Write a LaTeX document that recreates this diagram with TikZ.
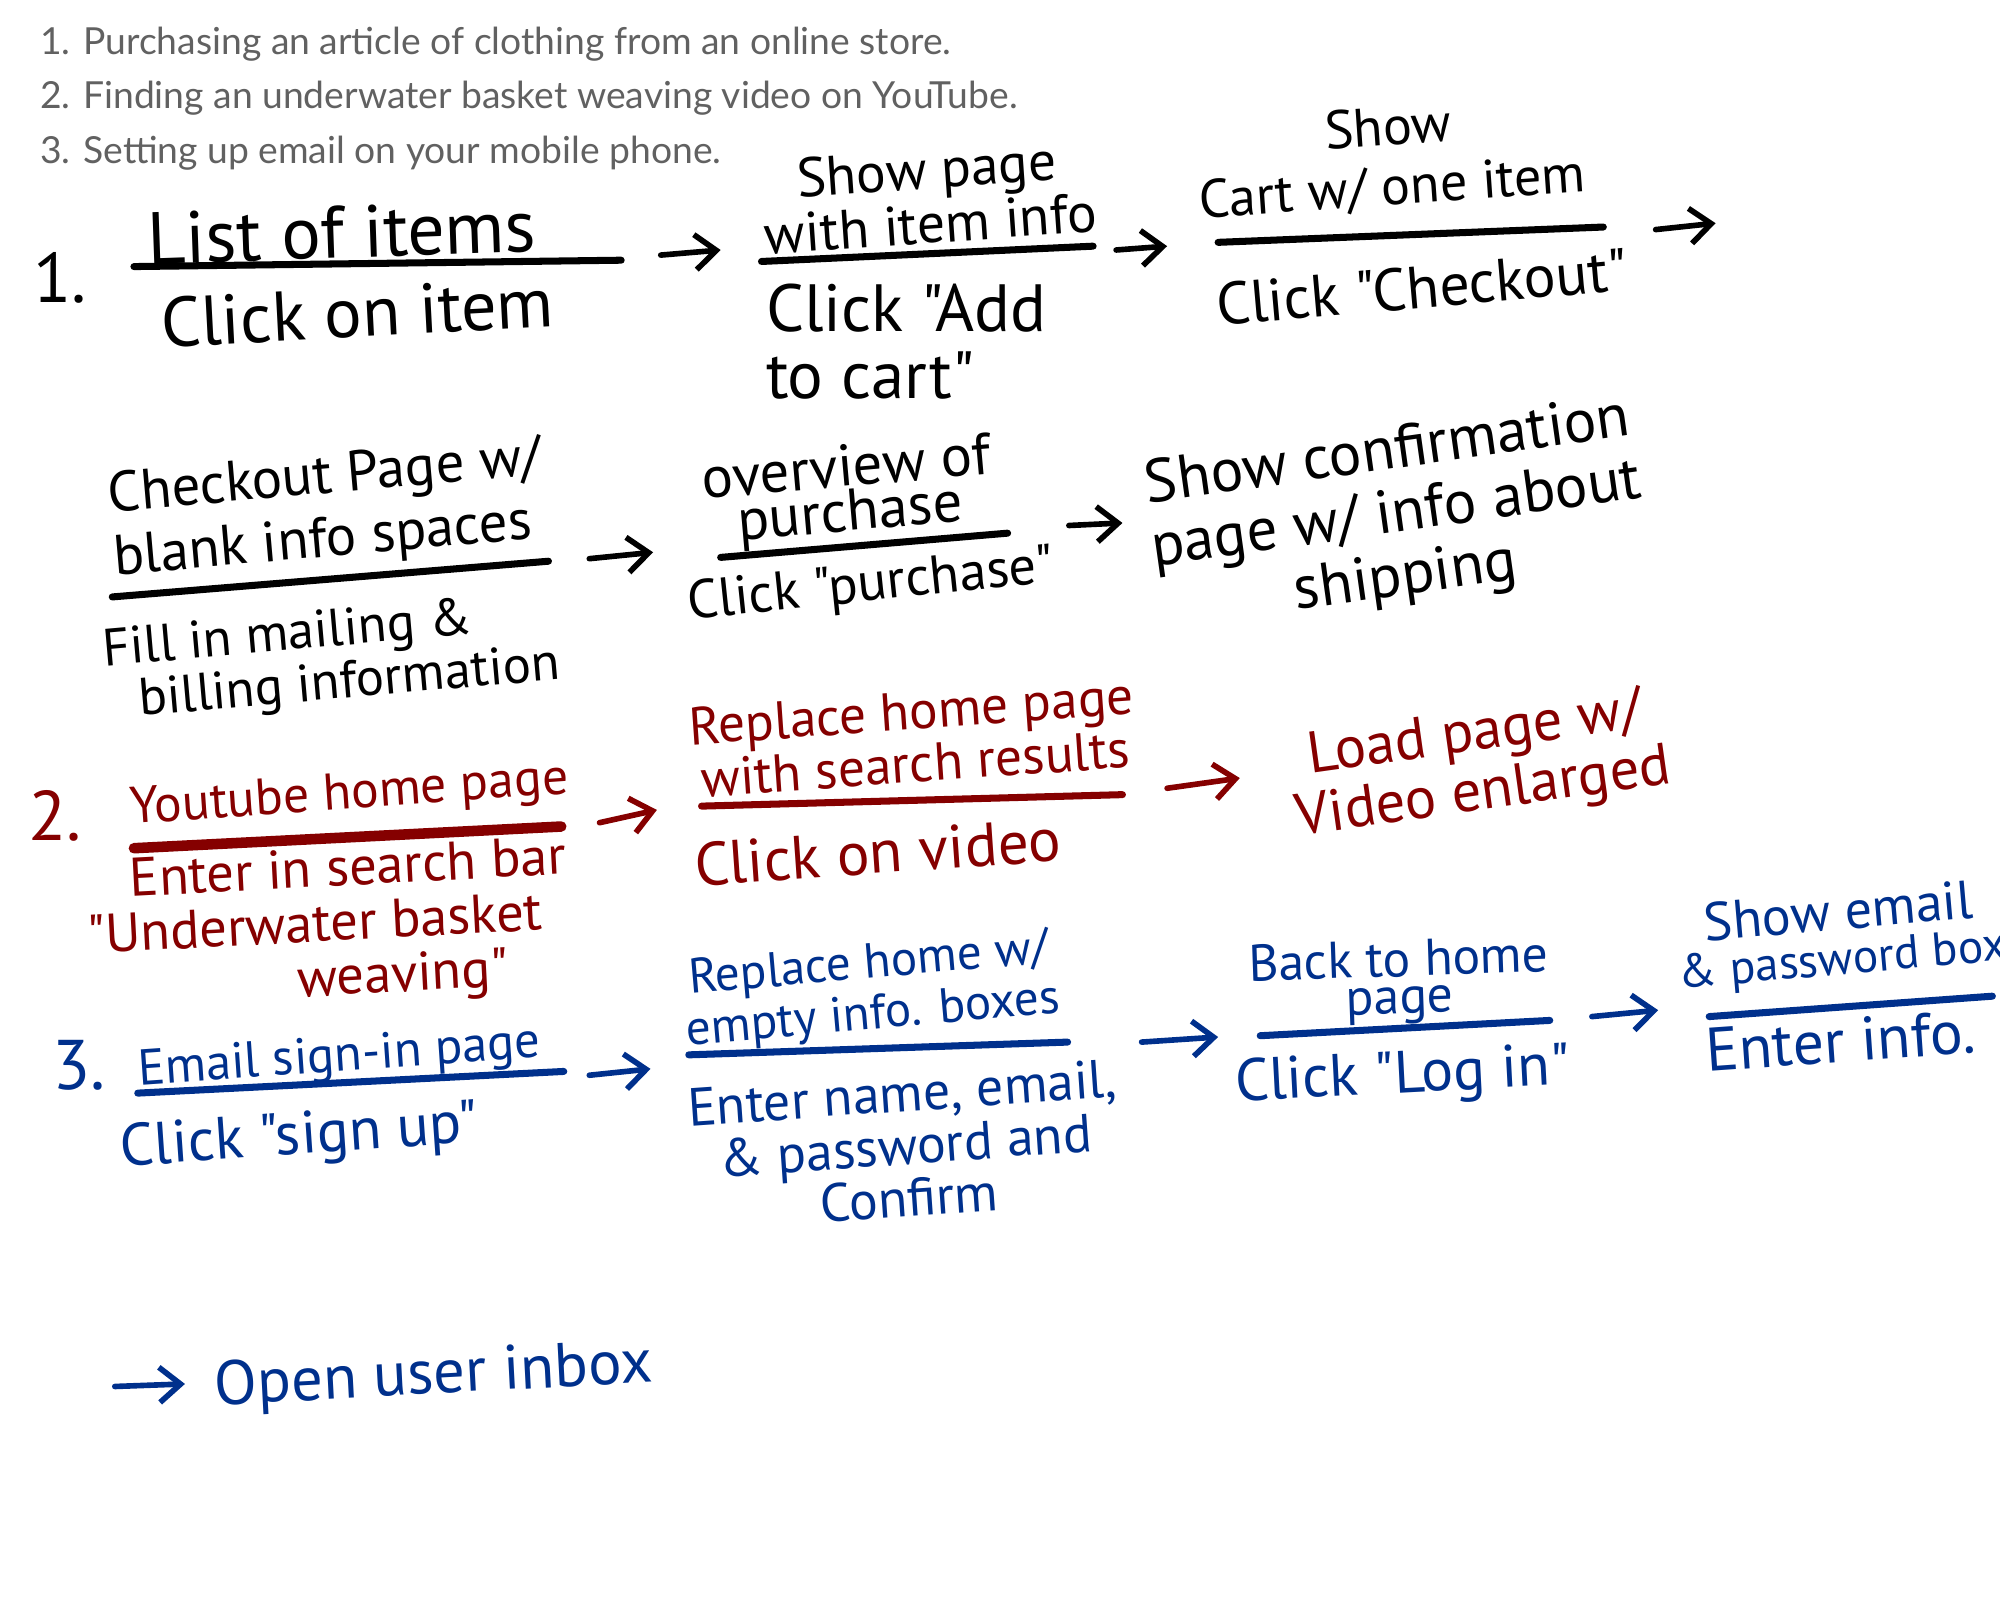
\documentclass[tikz,border=0pt]{standalone}
\usepackage{fontspec}
\setmainfont{Lato}
\newfontfamily\handfont{PT Sans}
\usetikzlibrary{arrows.meta}
\definecolor{inkred}{rgb}{0.52,0.0,0.0}
\definecolor{inkblue}{rgb}{0.0,0.19,0.55}
\definecolor{notegray}{rgb}{0.38,0.38,0.38}

\begin{document}
\begin{tikzpicture}[x=0.012755cm, y=-0.012755cm,
    hand/.style 2 args={font=\handfont\fontsize{#1}{#2}\selectfont, inner sep=0pt, align=center},
    header/.style={font=\fontsize{10.6}{12}\selectfont, text=notegray, anchor=west, inner sep=0pt},
    divider/.style={line width=2pt, line cap=round},
    flow/.style={-{Straight Barb[length=6pt,width=10pt]}, line width=1.6pt, line cap=round},
    bignum/.style={font=\handfont\fontsize{20}{20}\selectfont, inner sep=0pt}]
    \useasboundingbox (0,0) rectangle (1568,1254);

    \node[header] (h1) at (31,35) {1. Purchasing an article of clothing from an online store.};
    \node[header] (h2) at (31,77) {2. Finding an underwater basket weaving video on YouTube.};
    \node[header] (h3) at (31,120) {3. Setting up email on your mobile phone.};

    % 1
    \node[bignum] (num1) at (47,218) {1.};
    \node[hand={21}{20}, rotate=2] (t11) at (268,182) {List of items};
    \coordinate (d11a) at (105,209); \coordinate (d11b) at (487,204);
    \draw[divider] (d11a) -- (d11b);
    \node[hand={20}{20}, rotate=3] (c11) at (280,245) {Click on item};
    \coordinate (a11a) at (518,200); \coordinate (a11b) at (565,196);
    \draw[flow] (a11a) -- (a11b);

    \node[hand={15.8}{12.7}, rotate=4] (t12) at (728,154) {Show page\\with item info};
    \coordinate (d12a) at (597,205); \coordinate (d12b) at (857,193);
    \draw[divider] (d12a) -- (d12b);
    \node[hand={19}{19}, align=left, anchor=west] (c12) at (600,268) {Click "Add\\to cart"};
    \coordinate (a12a) at (875,196); \coordinate (a12b) at (915,193);
    \draw[flow] (a12a) -- (a12b);

    \node[hand={15.4}{17}, rotate=4] (t13) at (1090,125) {Show\\Cart w/ one item};
    \coordinate (d13a) at (955,190); \coordinate (d13b) at (1257,178);
    \draw[divider] (d13a) -- (d13b);
    \node[hand={17}{17}, rotate=5] (c13) at (1115,225) {Click "Checkout"};
    \coordinate (a13a) at (1298,180); \coordinate (a13b) at (1345,175);
    \draw[flow] (a13a) -- (a13b);

    \node[hand={16.2}{18}, align=left, rotate=5] (t14) at (257,400) {Checkout Page w/\\blank info spaces};
    \coordinate (d14a) at (88,468); \coordinate (d14b) at (430,440);
    \draw[divider] (d14a) -- (d14b);
    \node[hand={15}{15}, align=left, rotate=5] (c14) at (260,517) {Fill in mailing \&\\\hspace*{9pt}billing information};
    \coordinate (a14a) at (462,438); \coordinate (a14b) at (512,433);
    \draw[flow] (a14a) -- (a14b);

    \node[hand={16.7}{12.7}, rotate=5] (t15) at (665,387) {overview of\\purchase};
    \coordinate (d15a) at (565,437); \coordinate (d15b) at (790,418);
    \draw[divider] (d15a) -- (d15b);
    \node[hand={15.5}{15}, rotate=6] (c15) at (683,460) {Click "purchase"};
    \coordinate (a15a) at (838,412); \coordinate (a15b) at (880,410);
    \draw[flow] (a15a) -- (a15b);

    \node[hand={17.4}{18}, rotate=8] (t16) at (1095,405) {Show confirmation\\page w/ info about\\shipping};

    % 2
    \begin{scope}[inkred, every node/.append style={text=inkred}]
    \node[bignum] (num2) at (43,640) {2.};
    \node[hand={14.7}{15}, rotate=4] (t21) at (274,624) {Youtube home page};
    \coordinate (d21a) at (105,665); \coordinate (d21b) at (440,648);
    \draw[divider, line width=3pt] (d21a) -- (d21b);
    \node[hand={15.5}{15.5}, align=left, anchor=west, rotate=3] (c21) at (68,737) {\hspace*{13pt}Enter in search bar\\"Underwater basket\\\hspace*{59pt}weaving"};
    \coordinate (a21a) at (470,645); \coordinate (a21b) at (515,635);
    \draw[flow] (a21a) -- (a21b);

    \node[hand={15.2}{15}, rotate=4] (t22) at (716,578) {Replace home page\\with search results};
    \coordinate (d22a) at (550,632); \coordinate (d22b) at (880,623);
    \draw[divider] (d22a) -- (d22b);
    \node[hand={17.4}{17}, rotate=4] (c22) at (688,668) {Click on video};
    \coordinate (a22a) at (915,618); \coordinate (a22b) at (972,610);
    \draw[flow] (a22a) -- (a22b);

    \node[hand={16.7}{17}, rotate=8] (t23) at (1160,600) {Load page w/\\Video enlarged};
    \end{scope}

    % 3
    \begin{scope}[inkblue, every node/.append style={text=inkblue}]
    \node[bignum] (num3) at (62,835) {3.};
    \node[hand={14.4}{15}, rotate=4] (t31) at (266,830) {Email sign-in page};
    \coordinate (d31a) at (108,857); \coordinate (d31b) at (442,840);
    \draw[divider] (d31a) -- (d31b);
    \node[hand={17}{17}, rotate=4] (c31) at (235,893) {Click "sign up"};
    \coordinate (a31a) at (462,843); \coordinate (a31b) at (510,838);
    \draw[flow] (a31a) -- (a31b);

    \node[hand={14}{14.5}, rotate=5] (t32) at (683,777) {Replace home w/\\empty info. boxes};
    \coordinate (d32a) at (540,827); \coordinate (d32b) at (837,817);
    \draw[divider] (d32a) -- (d32b);
    \node[hand={15.3}{15}, rotate=4] (c32) at (710,898) {Enter name, email,\\\& password and\\Confirm};
    \coordinate (a32a) at (895,817); \coordinate (a32b) at (955,813);
    \draw[flow] (a32a) -- (a32b);

    \node[hand={14.7}{10.5}, rotate=2] (t33) at (1097,770) {Back to home\\page};
    \coordinate (d33a) at (988,812); \coordinate (d33b) at (1215,800);
    \draw[divider] (d33a) -- (d33b);
    \node[hand={17}{17}, rotate=3] (c33) at (1100,845) {Click "Log in"};
    \coordinate (a33a) at (1248,797); \coordinate (a33b) at (1300,792);
    \draw[flow] (a33a) -- (a33b);

    \node[hand={15.4}{12.7}, rotate=5] (t34) at (1443,735) {Show email\\{\fontsize{13.5}{12.7}\selectfont\& password box}};
    \coordinate (d34a) at (1340,797); \coordinate (d34b) at (1562,781);
    \draw[divider] (d34a) -- (d34b);
    \node[hand={17.5}{17}, rotate=4] (c34) at (1443,816) {Enter info.};

    \coordinate (a35a) at (90,1087); \coordinate (a35b) at (145,1085);
    \draw[flow] (a35a) -- (a35b);
    \node[hand={17.8}{17}, rotate=3] (n35) at (340,1080) {Open user inbox};
    \end{scope}
\end{tikzpicture}
\end{document}
